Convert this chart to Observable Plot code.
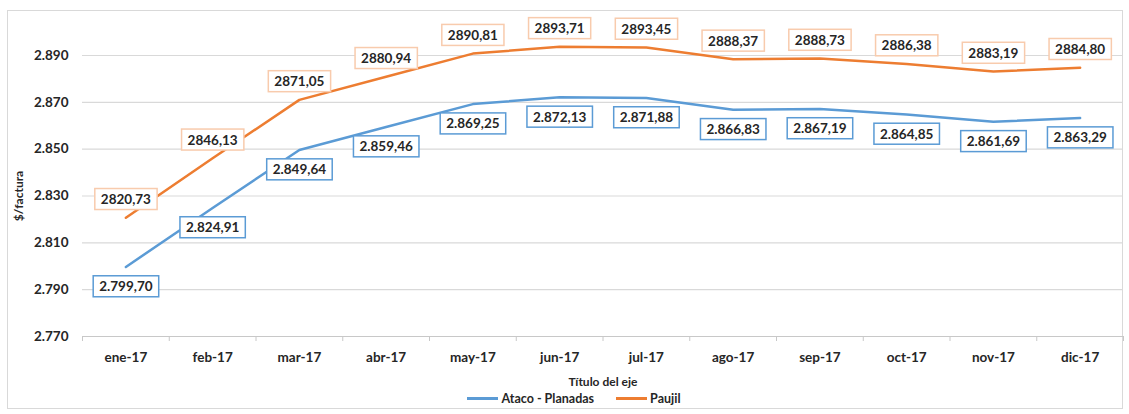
<!DOCTYPE html>
<html>
<head>
<meta charset="utf-8">
<script src="https://cdn.jsdelivr.net/npm/d3@7"></script>
<script src="https://cdn.jsdelivr.net/npm/@observablehq/plot@0.6"></script>
<style>
  body { margin: 0; background: #fff; font-family: Lato, "Open Sans", sans-serif; }
  #frame { position: absolute; left: 7px; top: 10px; width: 1116px; height: 399px; border: 1px solid #d9d9d9; box-sizing: border-box; }
  #chart { position: absolute; left: 0; top: 0; }
  #legend { position: absolute; left: 0; top: 391px; width: 1148px; display: flex; justify-content: center; align-items: center; gap: 22px; font: bold 12.5px Lato, sans-serif; color: #262626; }
  #legend .item { display: flex; align-items: center; gap: 3px; }
  #legend .sw { width: 31px; height: 3px; display: inline-block; }
</style>
</head>
<body>
<div id="frame"></div>
<div id="chart"></div>
<div id="legend"></div>
<script>
const months = ["ene-17", "feb-17", "mar-17", "abr-17", "may-17", "jun-17", "jul-17", "ago-17", "sep-17", "oct-17", "nov-17", "dic-17"];
const ataco = [2799.70, 2824.91, 2849.64, 2859.46, 2869.25, 2872.13, 2871.88, 2866.83, 2867.19, 2864.85, 2861.69, 2863.29];
const paujil = [2820.73, 2846.13, 2871.05, 2880.94, 2890.81, 2893.71, 2893.45, 2888.37, 2888.73, 2886.38, 2883.19, 2884.80];
const yTicks = [2770, 2790, 2810, 2830, 2850, 2870, 2890];
const seriesNames = ["Ataco - Planadas", "Paujil"];
const seriesColors = ["#5b9bd5", "#ed7d31"];

const es = d3.formatLocale({decimal: ",", thousands: ".", grouping: [3], currency: ["$", ""]});
const fmtThousands2 = es.format(",.2f");
const fmtPlain2 = es.format(".2f");
const fmtY = es.format(",.0f");

const data = months.map((m, i) => ({
  i, month: m,
  ataco: ataco[i], paujil: paujil[i],
  atacoLabel: fmtThousands2(ataco[i]),
  paujilLabel: fmtPlain2(paujil[i])
}));

const textColor = "#262626";

const chart = Plot.plot({
  width: 1129,
  height: 392,
  marginLeft: 82,
  marginRight: 6,
  marginTop: 55,
  marginBottom: 56,
  x: {domain: [-0.5, 11.5]},
  y: {domain: [2770, 2890]},
  style: {fontFamily: "Lato, 'Open Sans', sans-serif", fontSize: "13.5px", fontWeight: "bold", color: textColor, background: "transparent", overflow: "visible"},
  marks: [
    Plot.gridY({ticks: yTicks, stroke: "#d9d9d9", strokeOpacity: 1, strokeWidth: 1.2}),
    Plot.ruleY([2770], {stroke: "#c8c8c8", strokeWidth: 1.2}),
    Plot.axisY({ticks: yTicks, tickSize: 0, tickPadding: 14, tickFormat: fmtY, label: "$/factura", labelAnchor: "center", labelArrow: "none", labelOffset: 68}),
    Plot.axisX({ticks: d3.range(12), tickSize: 0, tickPadding: 16, tickFormat: i => months[i], label: "Título del eje", labelAnchor: "center", labelArrow: "none", labelOffset: 49}),
    Plot.axisX({ticks: d3.range(13).map(i => i - 0.5), tickSize: 5, stroke: "#c8c8c8", tickFormat: () => "", label: null}),
    Plot.line(data, {x: "i", y: "ataco", stroke: seriesColors[0], strokeWidth: 2.5}),
    Plot.line(data, {x: "i", y: "paujil", stroke: seriesColors[1], strokeWidth: 2.5}),
    Plot.text(data, {x: "i", y: "ataco", text: "atacoLabel", dy: 20, fill: textColor, fontSize: 13.5, fontWeight: "bold"}),
    Plot.text(data, {x: "i", y: "paujil", text: "paujilLabel", dy: -18, fill: textColor, fontSize: 13.5, fontWeight: "bold"})
  ]
});

document.getElementById("chart").appendChild(chart);

// Boxes behind data labels (the two text marks, in order)
const textGroups = chart.querySelectorAll('g[aria-label="text"]');
function boxLabels(g, stroke, sw) {
  if (!g) return;
  g.querySelectorAll("text").forEach(t => {
    const b = t.getBBox();
    const r = document.createElementNS("http://www.w3.org/2000/svg", "rect");
    r.setAttribute("x", b.x - 6);
    r.setAttribute("y", b.y - 2.5);
    r.setAttribute("width", b.width + 12);
    r.setAttribute("height", b.height + 5);
    r.setAttribute("fill", "#fff");
    r.setAttribute("stroke", stroke);
    r.setAttribute("stroke-width", sw);
    if (t.getAttribute("transform")) r.setAttribute("transform", t.getAttribute("transform"));
    t.parentNode.insertBefore(r, t);
  });
}
boxLabels(textGroups[0], "#5b9bd5", 1.5);
boxLabels(textGroups[1], "#f8cbad", 1.5);

// Axis title sizes
chart.querySelectorAll('g[aria-label="y-axis label"] text, g[aria-label="x-axis label"] text').forEach(t => {
  t.setAttribute("font-size", "12px");
});

// Legend
const legend = document.getElementById("legend");
seriesNames.forEach((name, k) => {
  const item = document.createElement("div");
  item.className = "item";
  item.innerHTML = `<span class="sw" style="background:${seriesColors[k]}"></span><span>${name}</span>`;
  legend.appendChild(item);
});
</script>
</body>
</html>
